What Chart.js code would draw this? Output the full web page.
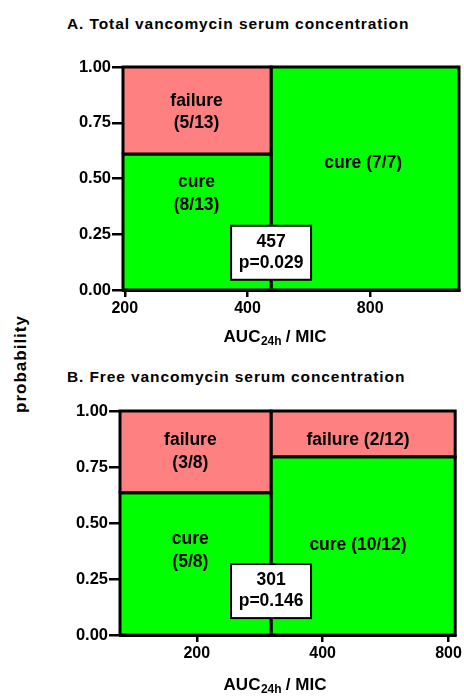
<!DOCTYPE html>
<html>
<head>
<meta charset="utf-8">
<script src="https://cdn.jsdelivr.net/npm/chart.js@4"></script>
<style>
  body { margin: 0; background: #fff; }
  #wrap { position: relative; width: 464px; height: 696px; font-family: "Liberation Sans", Arial, sans-serif; }
  .title { position: absolute; left: 67px; font-weight: bold; font-size: 15.5px; letter-spacing: 0.9px; line-height: 20px; color: #000; white-space: nowrap; }
  #ylab { position: absolute; left: 21px; top: 364px; transform: translate(-50%, -50%) rotate(-90deg);
          font-weight: bold; font-size: 17px; letter-spacing: 1px; white-space: nowrap; }
  canvas { position: absolute; left: 0; }
</style>
</head>
<body>
<div id="wrap">
  <div class="title" style="top:14px">A. Total vancomycin serum concentration</div>
  <div class="title" style="top:367px">B. Free vancomycin serum concentration</div>
  <div id="ylab">probability</div>
  <canvas id="chartA" width="464" height="348" style="top:0"></canvas>
  <canvas id="chartB" width="464" height="348" style="top:348px"></canvas>
</div>
<script>
// data, panel A = total, panel B = free vancomycin
const cutoffs = [457, 301];
const pValues = ['p=0.029', 'p=0.146'];
const xMin = [198, 131];
const xMax = [1321, 830];
const xTicks = [200, 400, 800];
const yTicks = [0, 0.25, 0.5, 0.75, 1];
const cureBelow = [0.61, 0.635];   // share cured below cut-off
const cureAbove = [1.0, 0.795];    // share cured above cut-off
const textBelow = [
  [['failure', '(5/13)'], ['cure', '(8/13)']],
  [['failure', '(3/8)'], ['cure', '(5/8)']]
];
const textAbove = [
  [null, ['cure (7/7)']],
  [['failure (2/12)'], ['cure (10/12)']]
];

// where the texts sit (data coords)
const labelPos = [
  { bx: 300, bFail: 0.797, bCure: 0.431, ax: 769, aFail: null, aCure: 0.567, box: 0.167 },
  { bx: 193, bFail: 0.818, bCure: 0.377, ax: 486, aFail: 0.871, aCure: 0.402, box: 0.196 }
];
const layouts = [
  { pad: { left: 0, right: 5, top: 67, bottom: 0 }, yW: 123, xH: 58 },
  { pad: { left: 0, right: 7, top: 63, bottom: 0 }, yW: 120, xH: 61 }
];

const PINK = '#FF8080';
const GREEN = '#00FF00';
const FONT = '"Liberation Sans", Arial, sans-serif';

function rect(x0, x1, y0, y1, color) {
  return {
    data: [{x: x0, y: y0}, {x: x0, y: y1}, {x: x1, y: y1}, {x: x1, y: y0}, {x: x0, y: y0}],
    showLine: true,
    fill: 'shape',
    backgroundColor: color,
    borderColor: '#000',
    borderWidth: 3,
    borderJoinStyle: 'miter',
    pointRadius: 0,
    tension: 0,
    clip: 4
  };
}

function makeChart(id, i) {
  const c = cutoffs[i];
  const sets = [
    rect(xMin[i], c, cureBelow[i], 1, PINK),
    rect(xMin[i], c, 0, cureBelow[i], GREEN),
    rect(c, xMax[i], 0, cureAbove[i], GREEN)
  ];
  if (cureAbove[i] < 1) sets.push(rect(c, xMax[i], cureAbove[i], 1, PINK));

  const textPlugin = {
    id: 'texts' + i,
    afterDatasetsDraw(chart) {
      const ctx = chart.ctx;
      const xs = chart.scales.x, ys = chart.scales.y;
      const lp = labelPos[i];
      ctx.save();
      ctx.fillStyle = '#000';
      ctx.textAlign = 'center';
      ctx.textBaseline = 'middle';
      ctx.font = 'bold 17.5px ' + FONT;
      const lines = (arr, x, y) => {
        if (!arr || y == null) return;
        const px = xs.getPixelForValue(x), py = ys.getPixelForValue(y);
        const h = 22.5, off = (arr.length - 1) * h / 2;
        arr.forEach((t, k) => ctx.fillText(t, px, py - off + k * h));
      };
      lines(textBelow[i][0], lp.bx, lp.bFail);
      lines(textBelow[i][1], lp.bx, lp.bCure);
      lines(textAbove[i][0], lp.ax, lp.aFail);
      lines(textAbove[i][1], lp.ax, lp.aCure);

      // cut-off box
      const bx = xs.getPixelForValue(c), by = ys.getPixelForValue(lp.box);
      const w = 80, h = 54;
      ctx.fillStyle = '#fff';
      ctx.fillRect(bx - w / 2, by - h / 2, w, h);
      ctx.strokeStyle = '#000';
      ctx.lineWidth = 2;
      ctx.strokeRect(bx - w / 2, by - h / 2, w, h);
      ctx.fillStyle = '#000';
      ctx.fillText(String(c), bx, by - 10.5);
      ctx.fillText(pValues[i], bx, by + 10.5);

      // x axis title with subscript
      const cx = 275, cy = chart.height - 11;
      ctx.textAlign = 'left';
      const a = 'AUC', b = ' / MIC';
      ctx.font = 'bold 12px ' + FONT;
      const ws = ctx.measureText('24h').width;
      ctx.font = 'bold 17px ' + FONT;
      const wa = ctx.measureText(a).width, wb = ctx.measureText(b).width;
      let x0 = cx - (wa + ws + wb) / 2;
      ctx.fillText(a, x0, cy);
      ctx.font = 'bold 12px ' + FONT;
      ctx.fillText('24h', x0 + wa + 0.5, cy + 5);
      ctx.font = 'bold 17px ' + FONT;
      ctx.fillText(b, x0 + wa + ws, cy);
      ctx.restore();
    }
  };

  const L = layouts[i];
  return new Chart(document.getElementById(id), {
    type: 'scatter',
    data: { datasets: sets },
    options: {
      responsive: false,
      animation: false,
      layout: { padding: L.pad },
      plugins: { legend: { display: false }, tooltip: { enabled: false } },
      scales: {
        x: {
          type: 'logarithmic',
          min: xMin[i],
          max: xMax[i],
          afterBuildTicks: s => { s.ticks = xTicks.map(v => ({ value: v })); },
          afterFit: s => { s.height = L.xH; },
          ticks: {
            callback: v => String(v),
            color: '#000',
            font: { family: FONT, size: 16, weight: 'bold' },
            padding: 2,
            maxRotation: 0,
            autoSkip: false
          },
          grid: { drawOnChartArea: false, drawTicks: true, tickLength: 7, color: '#000', lineWidth: 2.5 },
          border: { display: true, color: '#000', width: 3 }
        },
        y: {
          min: 0,
          max: 1,
          afterBuildTicks: s => { s.ticks = yTicks.map(v => ({ value: v })); },
          afterFit: s => { s.width = L.yW; },
          ticks: {
            callback: v => v.toFixed(2),
            color: '#000',
            font: { family: FONT, size: 16.5, weight: 'bold' },
            padding: 1
          },
          grid: { drawOnChartArea: false, drawTicks: true, tickLength: 11, color: '#000', lineWidth: 2.5 },
          border: { display: true, color: '#000', width: 3 }
        }
      }
    },
    plugins: [textPlugin]
  });
}

makeChart('chartA', 0);
makeChart('chartB', 1);
</script>
</body>
</html>
